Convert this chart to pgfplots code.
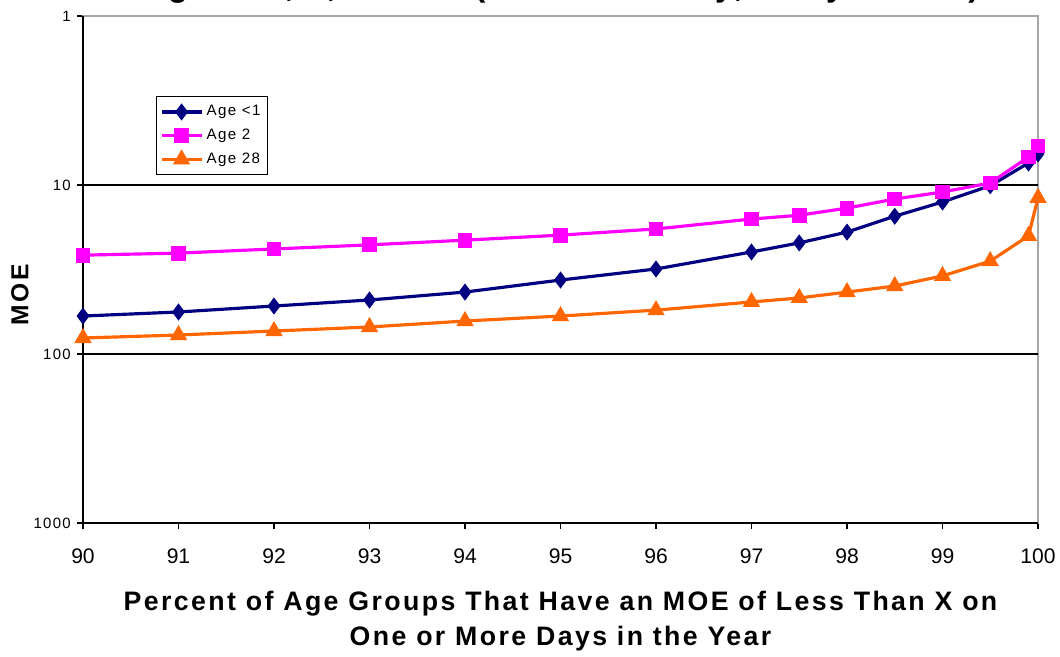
\documentclass[border=0pt]{standalone}
\usepackage{pgfplots}
\pgfplotsset{compat=1.18}
\usepackage{fontspec}
\setmainfont{Liberation Sans}
\newfontfamily\spaced[LetterSpace=9]{Liberation Sans}
\newfontfamily\spacedw[LetterSpace=12]{Liberation Sans}
\definecolor{navyc}{RGB}{0,0,128}
\definecolor{magc}{RGB}{255,0,255}
\definecolor{orc}{RGB}{255,102,0}
\begin{document}
\begin{tikzpicture}
\useasboundingbox (-1.66cm,-2.66cm) rectangle (19.54cm,10.46cm);
\begin{pgfinterruptboundingbox}
\begin{scope}
\clip (-1.66cm,-2.66cm) rectangle (19.54cm,10.46cm);
\begin{axis}[
  at={(0,0)}, anchor=south west,
  scale only axis, width=19.1cm, height=10.14cm,
  xmin=90, xmax=100,
  ymode=log, ymin=1, ymax=1000, y dir=reverse,
  xtick={90,91,92,93,94,95,96,97,98,99,100},
  xticklabels={90,91,92,93,94,95,96,97,98,99,100},
  ytick={1,10,100,1000},
  yticklabels={1,10,100,1000},
  yminorticks=false,
  tick align=outside,
  major tick length=0.12cm,
  xtick pos=left, ytick pos=left,
  tick style={black, line width=0.6pt},
  axis line style={draw=gray!70, line width=0.8pt},
  clip=false,
  title={Ages <1, 2, and 28 (Maximum Day, Daily Draws)},
  title style={at={(0.5,1)}, anchor=base, yshift=0.18cm, inner sep=0pt,
    font=\spaced\bfseries\fontsize{18.5}{20}\selectfont},
  xlabel={Percent of Age Groups That Have an MOE of Less Than X on\\One or More Days in the Year},
  xlabel style={at={(axis description cs:0.5,0)}, anchor=north, yshift=-1.36cm,
    align=center, inner sep=0pt, font=\spaced\bfseries\fontsize{15.2}{20}\selectfont},
  ylabel={MOE},
  ylabel style={at={(axis description cs:-0.066,0.45)}, anchor=center,
    font=\spacedw\bfseries\fontsize{14}{16}\selectfont},
  xticklabel style={font=\fontsize{12}{14}\selectfont, yshift=-0.28cm},
  yticklabel style={font=\spaced\fontsize{8.5}{10}\selectfont},
  legend style={at={(axis description cs:0.0764,0.842)}, anchor=north west,
    draw=black, line width=0.6pt, font=\spaced\fontsize{8.6}{10}\selectfont,
    cells={anchor=west}, row sep=2pt, inner xsep=2pt, inner ysep=3pt},
  legend image code/.code={\draw[mark repeat=2,mark phase=2] plot coordinates {(0cm,0cm) (0.4cm,0cm) (0.8cm,0cm)};},
]
\draw[black, line width=0.6pt] (axis cs:90,10) -- (axis cs:100,10);
\draw[black, line width=0.6pt] (axis cs:90,100) -- (axis cs:100,100);
\draw[black, line width=0.8pt] (axis cs:90,1) -- (axis cs:90,1000) -- (axis cs:100,1000);
\addplot[navyc, line width=1.8pt, mark=diamond*, mark size=3.4pt, mark options={solid}] coordinates {
(90,59.6) (91,56.4) (92,52.0) (93,47.9) (94,43.0) (95,36.5) (96,31.4) (97,24.9)
(97.5,22.0) (98,19.0) (98.5,15.3) (99,12.6) (99.5,10.1) (99.9,7.41) (100,6.55)};
\addlegendentry{Age <1}
\addplot[magc, line width=1.8pt, mark=square*, mark size=3.3pt, mark options={solid}] coordinates {
(90,26.0) (91,25.3) (92,23.9) (93,22.6) (94,21.2) (95,19.8) (96,18.2) (97,15.9)
(97.5,15.1) (98,13.7) (98.5,12.1) (99,11.0) (99.5,9.73) (99.9,6.83) (100,5.88)};
\addlegendentry{Age 2}
\addplot[orc, line width=1.8pt, mark=triangle*, mark size=3.9pt, mark options={solid}] coordinates {
(90,80.4) (91,77.2) (92,73.1) (93,69.2) (94,63.8) (95,59.6) (96,55.0) (97,49.2)
(97.5,46.6) (98,43.0) (98.5,39.6) (99,34.5) (99.5,28.2) (99.9,20.0) (100,11.9)};
\addlegendentry{Age 28}
\end{axis}
\end{scope}
\end{pgfinterruptboundingbox}
\end{tikzpicture}
\end{document}
